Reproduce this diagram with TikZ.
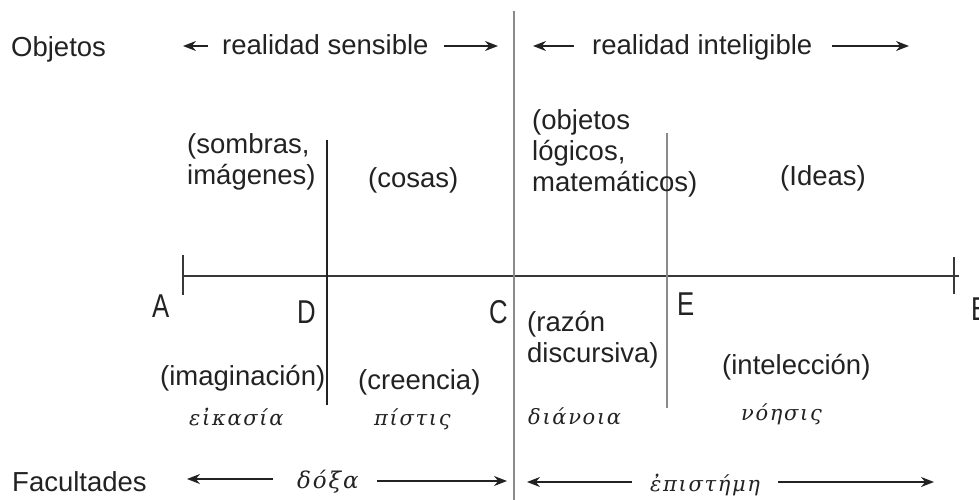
\documentclass[tikz,border=0pt]{standalone}
\usepackage{fontspec}
\usepackage{graphicx}
\setmainfont{Liberation Sans}
\newfontfamily\grk[LetterSpace=8]{DejaVu Serif}
\usetikzlibrary{arrows.meta}
\definecolor{ink}{HTML}{222222}
\definecolor{greyline}{HTML}{8A8A8A}
\tikzset{
  txt/.style={anchor=base west, inner sep=0pt, text=ink, font=\fontsize{27.5}{31}\selectfont, align=left},
  pt/.style={anchor=base west, inner sep=0pt, text=ink, font=\fontsize{33}{33}\selectfont},
  gk/.style={anchor=base west, inner sep=0pt, text=ink, font=\fontsize{21}{21}\selectfont\grk\itshape},
  gkb/.style={gk, font=\fontsize{23}{23}\selectfont\grk\itshape},
  arr/.style={draw=ink, line width=1.4pt, -{Stealth[length=13pt,width=10pt]}},
  mainline/.style={draw=ink!90, line width=1.3pt},
  darkv/.style={draw=ink, line width=1.3pt},
  greyv/.style={draw=greyline, line width=2pt},
}
\begin{document}
\begin{tikzpicture}[x=1pt,y=-1pt]
\useasboundingbox (0,0) rectangle (979,500);
% axis
\coordinate (a0) at (183,276);
\coordinate (b0) at (959,276);
\draw[mainline] (a0) -- (b0);
\coordinate (at1) at (183,255); \coordinate (at2) at (183,295);
\draw[mainline] (at1) -- (at2);
\coordinate (bt1) at (954,257); \coordinate (bt2) at (954,294);
\draw[mainline] (bt1) -- (bt2);
% vertical lines
\coordinate (d1) at (327,140); \coordinate (d2) at (327,405);
\draw[darkv] (d1) -- (d2);
\coordinate (c1) at (514,11); \coordinate (c2) at (514,500);
\draw[greyv] (c1) -- (c2);
\coordinate (e1) at (667,133); \coordinate (e2) at (667,408);
\draw[greyv] (e1) -- (e2);
% point labels
\node[pt] (A) at (152,317) {\scalebox{0.78}[1]{A}};
\node[pt] (D) at (297,323) {\scalebox{0.78}[1]{D}};
\node[pt] (C) at (489,323) {\scalebox{0.78}[1]{C}};
\node[pt] (E) at (677,315) {\scalebox{0.78}[1]{E}};
\node[pt] (B) at (971,320) {\scalebox{0.78}[1]{B}};
% top row
\node[txt] (obj) at (11,57) {Objetos};
\node[txt] (rs) at (222,55) {realidad sensible};
\node[txt] (ri) at (592,55) {realidad inteligible};
\coordinate (rs1t) at (183,46); \coordinate (rs1s) at (208,46);
\coordinate (rs2s) at (444,46); \coordinate (rs2t) at (498,46);
\coordinate (ri1t) at (533,46); \coordinate (ri1s) at (574,46);
\coordinate (ri2s) at (832,46); \coordinate (ri2t) at (909,46);
\draw[arr] (rs1s) -- (rs1t);
\draw[arr] (rs2s) -- (rs2t);
\draw[arr] (ri1s) -- (ri1t);
\draw[arr] (ri2s) -- (ri2t);
% objects
\node[txt] (somb) at (187,184) {(sombras,\\imágenes)};
\node[txt] (cosas) at (368,187) {(cosas)};
\node[txt] (objl) at (532,191) {(objetos\\lógicos,\\matemáticos)};
\node[txt] (ideas) at (780,185) {(Ideas)};
% faculties
\node[txt] (imag) at (160,385) {(imaginación)};
\node[txt] (cree) at (358,389) {(creencia)};
\node[txt] (razon) at (527,362) {(razón\\discursiva)};
\node[txt] (intel) at (722,374) {(intelección)};
\node[gk] (eik) at (189,425) {εἰκασία};
\node[gk] (pist) at (374,425) {πίστις};
\node[gk] (dian) at (528,424) {διάνοια};
\node[gk] (noes) at (741,420) {νόησις};
% bottom row
\node[txt] (fac) at (12,491) {Facultades};
\node[gkb] (doxa) at (297,488) {δόξα};
\node[gk] (epis) at (650,491) {ἐπιστήμη};
\coordinate (dx1t) at (187,479); \coordinate (dx1s) at (273,479);
\coordinate (dx2s) at (377,481); \coordinate (dx2t) at (507,481);
\coordinate (ep1t) at (527,482); \coordinate (ep1s) at (632,482);
\coordinate (ep2s) at (778,482); \coordinate (ep2t) at (934,482);
\draw[arr] (dx1s) -- (dx1t);
\draw[arr] (dx2s) -- (dx2t);
\draw[arr] (ep1s) -- (ep1t);
\draw[arr] (ep2s) -- (ep2t);
\end{tikzpicture}
\end{document}
